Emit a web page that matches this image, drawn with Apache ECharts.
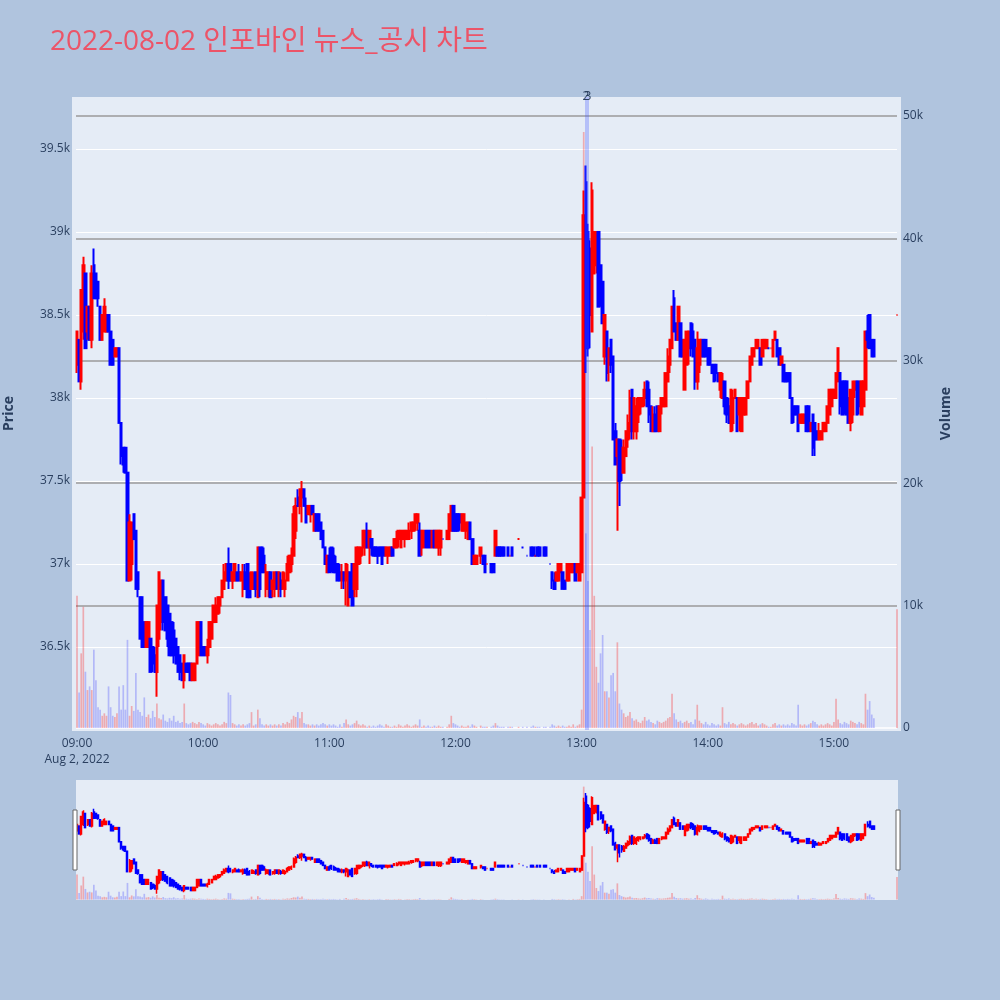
<!DOCTYPE html>
<html><head><meta charset="utf-8">
<script src="https://cdn.jsdelivr.net/npm/echarts@6/dist/echarts.min.js"></script>
<style>html,body{margin:0;padding:0;background:#B0C4DE;}#c{width:1000px;height:1000px;}</style>
</head><body><div id="c"></div>
<script>
const titleText = '2022-08-02 인포바인 뉴스_공시 차트';
const startHour = 9;                       // minute index 0 = 09:00
const dateLabel = 'Aug 2, 2022';
const timeTicks = [0, 60, 120, 180, 240, 300, 360];
const priceTicks = [36500, 37000, 37500, 38000, 38500, 39000, 39500];
const volumeTicks = [0, 10000, 20000, 30000, 40000, 50000];
const newsMinutes = [242, 243];
const newsLabels = ['2', '3'];
const _ = null;

const openPx = [
38200,38350,38100,38400,38750,38400,38550,38350,38800,38750,
38700,38550,38350,38400,38400,38500,38400,38350,38250,38250,
38300,37850,37700,37700,37550,36900,37000,37300,37200,36950,
36800,36800,36650,36500,36500,36550,36500,36450,36350,36550,
36650,36900,36800,36750,36700,36650,36600,36550,36500,36450,
36400,36300,36400,36400,36400,36300,36300,36400,36450,36650,
36500,36500,36450,36500,36550,36650,36650,36700,36750,36800,
36850,36900,37000,37000,36900,36900,36950,36950,36900,36850,
36950,37000,36900,36850,36850,36950,36800,37100,37100,37050,
36850,36850,36950,36850,36850,36950,36850,36900,36850,36850,
36900,36950,37000,37050,37200,37400,37350,37400,37450,37350,
37300,37300,37350,37200,37300,37300,37250,37200,37100,36950,
37050,37100,37050,37000,37000,36950,36900,36950,36900,36750,
36950,37000,36850,36850,37000,37050,37100,37100,37200,37100,
37150,37100,37100,37100,37100,37100,37100,37050,37050,37050,
37100,37100,37100,37150,37100,37150,37150,37150,37150,37200,
37200,37250,37250,37200,37100,37100,37200,37200,37200,37100,
37200,37100,37100,37100,37150,_,37150,37150,37200,37350,
37300,37300,37300,37200,37200,37200,37150,37250,37150,37000,
37000,_,37050,37050,37050,37000,_,37000,37000,37050,
37100,37100,37100,37100,_,37100,37050,37100,_,_,
37150,_,37100,_,37050,_,37100,37100,37050,37100,
37100,_,37100,37100,_,37000,36950,36900,36900,36900,
36950,36950,36900,36900,36900,36950,36950,37000,36950,36900,
36950,37400,39300,39000,38900,38400,38750,38800,39000,38800,
38700,38250,38400,38200,38350,38250,37800,37650,37750,37700,
37550,37650,37750,37800,38050,37800,37800,37900,37950,37950,
38000,38100,38050,37950,37800,37900,37950,37800,37950,37950,
37950,38100,38200,38300,38600,38450,38350,38450,38350,38050,
38200,38300,38450,38400,38350,38100,38200,38250,38350,38350,
38300,38300,38200,38200,38200,38150,38050,38000,38100,38000,
37950,37800,37850,38000,38000,37900,37800,37900,37900,38000,
38100,38200,38250,38300,38300,38300,38250,38300,38300,38300,
38300,38250,38350,38350,38300,38200,38200,38150,38150,38150,
38000,37950,37950,37950,37850,37850,37850,37950,37950,37800,
37900,37850,37800,37750,37750,37800,37800,37850,37900,37950,
38000,38000,38100,38150,38100,38100,38100,38000,37850,37900,
38050,38100,38100,37900,37950,38050,38400,38500,38350,38350,
_,_,_,_,_,_,_,_,_,_,
38500];

const closePx = [
38400,38100,38650,38800,38300,38550,38350,38750,38600,38600,
38600,38350,38500,38550,38500,38400,38200,38200,38300,38300,
37850,37650,37600,37550,36900,37250,37250,37150,36850,36850,
36550,36500,36500,36650,36650,36350,36400,36350,36750,36950,
36900,36650,36600,36550,36450,36450,36450,36400,36350,36350,
36300,36450,36350,36350,36300,36400,36400,36650,36650,36450,
36450,36450,36500,36650,36650,36750,36750,36800,36800,36900,
36950,37000,36900,36900,36950,37000,36900,36900,36950,36950,
36850,36800,36800,36950,36900,36850,37100,36850,36950,36950,
36950,36950,36800,36900,36950,36850,36950,36850,36950,36900,
37000,37050,37050,37300,37350,37350,37450,37450,37350,37250,
37350,37350,37300,37300,37200,37200,37150,37100,37000,37050,
36950,37000,36950,36950,36900,36900,36950,36900,37000,36950,
36800,36750,37000,37100,37100,37100,37200,37200,37100,37200,
37100,37050,37050,37050,37050,37000,37050,37100,37100,37100,
37050,37150,37150,37200,37200,37200,37200,37200,37200,37250,
37250,37300,37300,37050,37200,37200,37100,37100,37100,37200,
37100,37200,37200,37200,37150,_,37200,37300,37350,37200,
37200,37200,37250,37300,37300,37250,37250,37150,37000,37050,
37050,_,37100,37000,36950,37000,_,36950,36950,37200,
37050,37050,37050,37050,_,37050,37050,37050,_,_,
37150,_,37100,_,37050,_,37050,37050,37050,37050,
37050,_,37050,37050,_,37000,36900,36850,36950,37000,
37000,36850,36850,37000,37000,37000,37000,36900,37000,37000,
37400,39100,38300,38300,38500,39250,39000,39000,38550,38600,
38450,38500,38150,38300,38200,37750,37600,37750,37500,37600,
37700,37800,37850,38000,37800,38000,37950,38000,38000,38000,
38050,37950,37900,37800,37900,37800,37800,37950,38000,38000,
38150,38250,38350,38550,38400,38350,38550,38250,38250,38350,
38400,38400,38300,38250,38100,38300,38350,38350,38250,38250,
38200,38200,38150,38100,38150,38100,38150,38100,37950,37900,
37850,38050,38000,38050,37800,38000,38000,38000,38000,38100,
38250,38300,38300,38350,38350,38200,38350,38350,38350,38300,
38300,38350,38400,38250,38200,38250,38100,38100,38100,38000,
37850,37900,37900,37800,37900,37900,37900,37800,37800,37850,
37700,37750,37750,37800,37800,37850,37850,37950,38050,38050,
38050,38150,38300,37950,37900,37950,37900,37850,38050,38100,
38100,37900,37950,38100,38100,38400,38350,38300,38250,38250,
_,_,_,_,_,_,_,_,_,_,
38500];

const lowPx = [
38150,38100,38050,38350,38300,38350,38350,38300,38600,38600,
38550,38350,38350,38400,38400,38400,38200,38200,38250,38250,
37850,37600,37550,37550,36900,36900,36900,37150,36850,36800,
36550,36500,36500,36500,36500,36350,36350,36350,36200,36500,
36600,36600,36600,36500,36450,36450,36400,36400,36350,36300,
36300,36250,36350,36350,36300,36300,36300,36400,36450,36450,
36450,36450,36400,36500,36550,36650,36650,36700,36700,36800,
36850,36900,36850,36900,36850,36900,36900,36900,36900,36800,
36850,36800,36800,36850,36850,36800,36800,36800,36950,36950,
36800,36800,36800,36800,36800,36850,36800,36800,36850,36800,
36900,36950,36950,37050,37150,37350,37300,37250,37350,37250,
37300,37250,37300,37200,37200,37200,37150,37100,37000,36950,
36950,36950,36950,36950,36900,36900,36850,36850,36750,36750,
36800,36750,36800,36800,37000,37000,37050,37050,37100,37000,
37050,37050,37050,37000,37050,37000,37050,37050,37000,37050,
37050,37100,37100,37100,37100,37150,37100,37150,37150,37150,
37200,37200,37200,37050,37050,37100,37100,37100,37100,37100,
37100,37100,37050,37050,37150,_,37150,37150,37200,37200,
37200,37200,37200,37200,37200,37150,37150,37150,37000,37000,
37000,_,37000,37000,36950,37000,_,36950,36950,37050,
37050,37050,37050,37050,_,37050,37050,37050,_,_,
37150,_,37100,_,37050,_,37050,37050,37050,37050,
37050,_,37050,37050,_,37000,36850,36850,36900,36900,
36950,36850,36850,36900,36900,36950,36950,36900,36950,36900,
36950,37400,38150,38250,38300,38400,38750,38750,38550,38550,
38450,38200,38100,38100,38150,37750,37600,37200,37350,37500,
37550,37650,37700,37750,37750,37750,37750,37850,37900,37950,
37950,37950,37850,37800,37800,37800,37800,37800,37900,37950,
37950,38100,38150,38300,38400,38350,38350,38250,38250,38050,
38200,38200,38250,38250,38050,38050,38150,38250,38250,38250,
38200,38200,38150,38100,38100,38100,38000,38000,37900,37850,
37850,37800,37800,38000,37800,37800,37800,37900,37900,38000,
38100,38200,38250,38300,38300,38200,38250,38300,38300,38300,
38300,38250,38350,38250,38200,38200,38100,38100,38100,38000,
37850,37850,37900,37800,37850,37850,37850,37800,37800,37800,
37650,37650,37750,37750,37750,37800,37800,37850,37900,37950,
38000,38000,38100,37900,37900,37900,37900,37850,37800,37850,
38000,37900,37900,37900,37950,38050,38300,38300,38250,38250,
_,_,_,_,_,_,_,_,_,_,
38500];

const highPx = [
38400,38350,38650,38850,38750,38550,38550,38800,38900,38750,
38700,38550,38500,38600,38500,38500,38400,38350,38300,38300,
38300,37850,37700,37700,37550,37300,37250,37300,37200,36950,
36800,36800,36650,36650,36650,36550,36500,36500,36750,36950,
36900,36900,36800,36750,36700,36650,36650,36550,36500,36450,
36400,36450,36400,36400,36400,36400,36400,36650,36650,36650,
36500,36500,36550,36650,36650,36750,36800,36800,36800,36900,
37000,37000,37100,37000,36950,37000,36950,37000,36950,37000,
37000,37000,36950,36950,36950,36950,37100,37100,37100,37100,
37000,36950,36950,36900,36950,36950,36950,36950,36950,36950,
37050,37050,37100,37350,37400,37450,37450,37500,37450,37400,
37350,37350,37350,37300,37300,37300,37250,37200,37100,37050,
37100,37100,37100,37050,37000,37000,37000,36950,37000,37000,
36950,37000,37000,37100,37100,37100,37200,37200,37250,37200,
37150,37100,37100,37100,37100,37100,37100,37100,37100,37100,
37100,37150,37200,37200,37200,37200,37200,37200,37250,37250,
37250,37300,37300,37250,37200,37200,37200,37200,37200,37200,
37200,37200,37200,37200,37150,_,37200,37300,37350,37350,
37300,37300,37300,37300,37300,37250,37250,37250,37150,37050,
37050,_,37100,37050,37050,37000,_,37000,37000,37200,
37100,37100,37100,37100,_,37100,37050,37100,_,_,
37150,_,37100,_,37050,_,37100,37100,37050,37100,
37100,_,37100,37100,_,37000,36950,36950,36950,37000,
37000,36950,36900,37000,37000,37000,37000,37000,37000,37000,
37400,39250,39400,39050,38950,39300,39000,39000,39000,38800,
38700,38500,38400,38300,38350,38250,37850,37750,37750,37750,
37750,37800,37900,38050,38050,38000,38000,38000,38000,38000,
38100,38100,38100,37950,37950,37950,37950,37950,38000,38000,
38150,38300,38350,38550,38650,38450,38550,38450,38350,38350,
38400,38400,38450,38450,38350,38400,38350,38350,38350,38350,
38300,38300,38200,38200,38200,38150,38150,38150,38100,38000,
38000,38050,38050,38050,38000,38000,38000,38000,38000,38100,
38250,38300,38300,38350,38350,38300,38350,38350,38350,38300,
38300,38350,38400,38350,38300,38250,38200,38150,38150,38150,
38000,37950,37950,37950,37900,37900,37900,37950,37950,37850,
37900,37850,37800,37850,37800,37850,37850,37950,38050,38050,
38050,38150,38300,38150,38100,38100,38100,38000,38050,38100,
38100,38100,38100,38100,38100,38400,38500,38500,38350,38350,
_,_,_,_,_,_,_,_,_,_,
38500];

const volume = [
10800,2900,6100,9900,4600,3100,3400,3100,6400,3900,
1700,1500,1000,1200,1000,3400,1700,1000,900,1200,
3400,1500,3500,1500,7200,1000,1800,1400,4500,1500,
1300,1000,2500,900,1100,800,1400,900,2000,800,
700,1100,600,500,800,600,1000,500,600,400,
500,2000,400,300,400,500,400,300,500,400,
300,200,400,300,200,300,400,300,200,300,
500,400,2900,2700,400,300,200,300,200,300,
200,300,400,1300,200,300,1500,800,300,200,
300,200,300,200,300,200,300,200,400,300,
500,400,700,1000,900,1300,800,1300,400,300,
300,200,300,200,300,200,300,400,300,200,
300,200,300,200,100,300,100,400,700,300,
200,300,400,600,300,200,300,200,100,200,
100,200,100,200,300,200,100,300,200,100,
100,200,100,300,200,100,200,300,200,100,
200,300,200,700,100,200,100,200,100,100,
200,100,200,100,100,_,100,300,1000,400,
300,200,100,200,100,100,200,100,300,200,
100,_,200,100,100,100,_,100,200,400,
200,100,100,100,_,100,100,100,_,_,
100,_,100,_,100,_,100,200,100,100,
100,_,100,100,_,100,300,200,100,200,
100,200,100,100,200,100,300,100,200,300,
1500,48700,15900,12000,8000,23000,10800,5000,3700,6100,
7600,3000,3000,2500,4300,4500,3000,7000,2000,1500,
1200,900,1000,1300,800,600,700,500,400,600,
900,600,700,500,400,300,600,500,400,500,
600,800,900,2800,1200,700,500,600,400,500,
600,400,500,300,700,1900,600,400,300,500,
300,200,400,300,200,300,200,1700,400,300,
500,300,400,300,200,300,400,300,200,300,
400,500,300,400,200,300,400,300,200,100,
100,300,400,200,300,200,300,200,300,200,
400,300,200,1900,300,200,300,200,300,400,
600,500,300,200,300,200,300,400,300,200,
500,2400,700,400,300,500,400,300,600,500,
400,300,500,400,300,2800,1500,2200,1100,800,
_,_,_,_,_,_,_,_,_,_,
9700];

const RED = '#ff0000', BLUE = '#0000ff';
const RED_V = 'rgba(255,0,0,0.28)', BLUE_V = 'rgba(0,0,255,0.22)';
const FONT = "'Open Sans','Noto Sans CJK KR',sans-serif";
const TXT = '#2a3f5f';

function hhmm(m) {
  const h = startHour + Math.floor(m / 60), mm = m % 60;
  return String(h).padStart(2, '0') + ':' + String(mm).padStart(2, '0');
}

const candles = [], vols = [];
let prevClose = null;
for (let i = 0; i < openPx.length; i++) {
  if (openPx[i] == null) continue;
  const o = openPx[i], c = closePx[i];
  const up = c > o || (c === o && (prevClose == null || c >= prevClose));
  const item = { value: [i, o, c, lowPx[i], highPx[i]] };
  if (c === o) item.itemStyle = { color: up ? RED : BLUE, borderColor: up ? RED : BLUE, color0: up ? RED : BLUE, borderColor0: up ? RED : BLUE };
  candles.push(item);
  prevClose = c;
  if (volume[i] != null) vols.push({ value: [i, volume[i]], itemStyle: { color: up ? RED_V : BLUE_V } });
}

const candleStyle = { color: RED, color0: BLUE, borderColor: RED, borderColor0: BLUE, borderWidth: 2 };
const X_MIN = -0.48, X_MAX = 390;
const P_MIN = 36000, P_MAX = 39813;
const V_MIN = -163, V_MAX = 51552;

const chart = echarts.init(document.getElementById('c'), null, { renderer: 'canvas', width: 1000, height: 1000 });
chart.setOption({
  animation: false,
  backgroundColor: '#B0C4DE',
  title: {
    text: titleText, left: 45, top: 23,
    textStyle: { fontSize: 28, fontWeight: 'normal', color: '#EC5468', fontFamily: FONT }
  },
  graphic: [
    { type: 'rect', z: -10, silent: true, shape: { x: 72, y: 97, width: 829, height: 634 }, style: { fill: '#E5ECF6' } },
    { type: 'rect', z: -10, silent: true, shape: { x: 76, y: 780, width: 822, height: 120 }, style: { fill: '#E5ECF6' } },
    { type: 'rect', z: 50, silent: true, shape: { x: 73, y: 810, width: 4, height: 60 }, style: { fill: '#ffffff', stroke: '#666666', lineWidth: 1 } },
    { type: 'rect', z: 50, silent: true, shape: { x: 896, y: 810, width: 4, height: 60 }, style: { fill: '#ffffff', stroke: '#666666', lineWidth: 1 } }
  ],
  grid: [
    { left: 76, right: 103, top: 97, height: 633, containLabel: false, outerBoundsMode: 'none' },
    { left: 76, right: 103, top: 780, height: 120, containLabel: false, outerBoundsMode: 'none' }
  ],
  xAxis: [
    {
      type: 'value', gridIndex: 0, min: X_MIN, max: X_MAX,
      axisLine: { show: false }, axisTick: { show: false, customValues: timeTicks },
      splitLine: { show: false },
      axisLabel: {
        customValues: timeTicks, color: TXT, fontSize: 12, fontFamily: FONT, margin: 6, lineHeight: 16,
        formatter: v => v === 0 ? hhmm(v) + '\n' + dateLabel : hhmm(v)
      }
    },
    { type: 'value', gridIndex: 1, min: X_MIN, max: X_MAX, show: false, splitLine: { show: false } }
  ],
  yAxis: [
    {
      type: 'value', gridIndex: 0, position: 'left', min: P_MIN, max: P_MAX,
      axisLine: { show: false }, axisTick: { show: false, customValues: priceTicks },
      axisLabel: { customValues: priceTicks, color: TXT, fontSize: 12, fontFamily: FONT, margin: 6, formatter: v => (v / 1000) + 'k' },
      splitLine: { lineStyle: { color: '#ffffff', width: 1 } },
      name: 'Price', nameLocation: 'middle', nameGap: 60, nameRotate: 90,
      nameTextStyle: { fontWeight: 'bold', fontSize: 14, color: TXT, fontFamily: FONT }
    },
    {
      type: 'value', gridIndex: 0, position: 'right', min: V_MIN, max: V_MAX,
      axisLine: { show: false }, axisTick: { show: false, customValues: volumeTicks },
      axisLabel: { customValues: volumeTicks, color: TXT, fontSize: 12, fontFamily: FONT, margin: 6, formatter: v => v === 0 ? '0' : (v / 1000) + 'k' },
      splitLine: { lineStyle: { color: ['#ffffff', '#9a9a9a', '#9a9a9a', '#9a9a9a', '#9a9a9a', '#9a9a9a'], width: 1.5 } },
      name: 'Volume', nameLocation: 'middle', nameGap: 42, nameRotate: 90,
      nameTextStyle: { fontWeight: 'bold', fontSize: 14, color: TXT, fontFamily: FONT }
    },
    { type: 'value', gridIndex: 1, min: P_MIN, max: P_MAX, show: false, splitLine: { show: false } },
    { type: 'value', gridIndex: 1, min: V_MIN, max: V_MAX, show: false, splitLine: { show: false } }
  ],
  series: [
    {
      type: 'bar', name: 'Volume', xAxisIndex: 0, yAxisIndex: 1, data: vols, barWidth: 1.7, z: 2,
      encode: { x: 0, y: 1 }
    },
    {
      type: 'candlestick', name: 'Price', xAxisIndex: 0, yAxisIndex: 0, data: candles, barWidth: 2, z: 3,
      encode: { x: 0, y: [1, 2, 3, 4] }, itemStyle: candleStyle,
      markLine: {
        silent: true, symbol: ['none', 'none'], animation: false,
        lineStyle: { color: 'rgba(70,90,255,0.30)', width: 2, type: 'solid' },
        label: { show: true, position: 'end', distance: -6, color: TXT, fontSize: 12, fontFamily: FONT },
        data: newsMinutes.map((m, k) => ({ xAxis: m, label: { formatter: newsLabels[k] } }))
      }
    },
    {
      type: 'bar', xAxisIndex: 1, yAxisIndex: 3, data: vols, barWidth: 1.7, z: 2,
      encode: { x: 0, y: 1 }
    },
    {
      type: 'candlestick', xAxisIndex: 1, yAxisIndex: 2, data: candles, barWidth: 1.5, z: 3,
      encode: { x: 0, y: [1, 2, 3, 4] }, itemStyle: { ...candleStyle, borderWidth: 1.5 }
    }
  ]
});
</script></body></html>
